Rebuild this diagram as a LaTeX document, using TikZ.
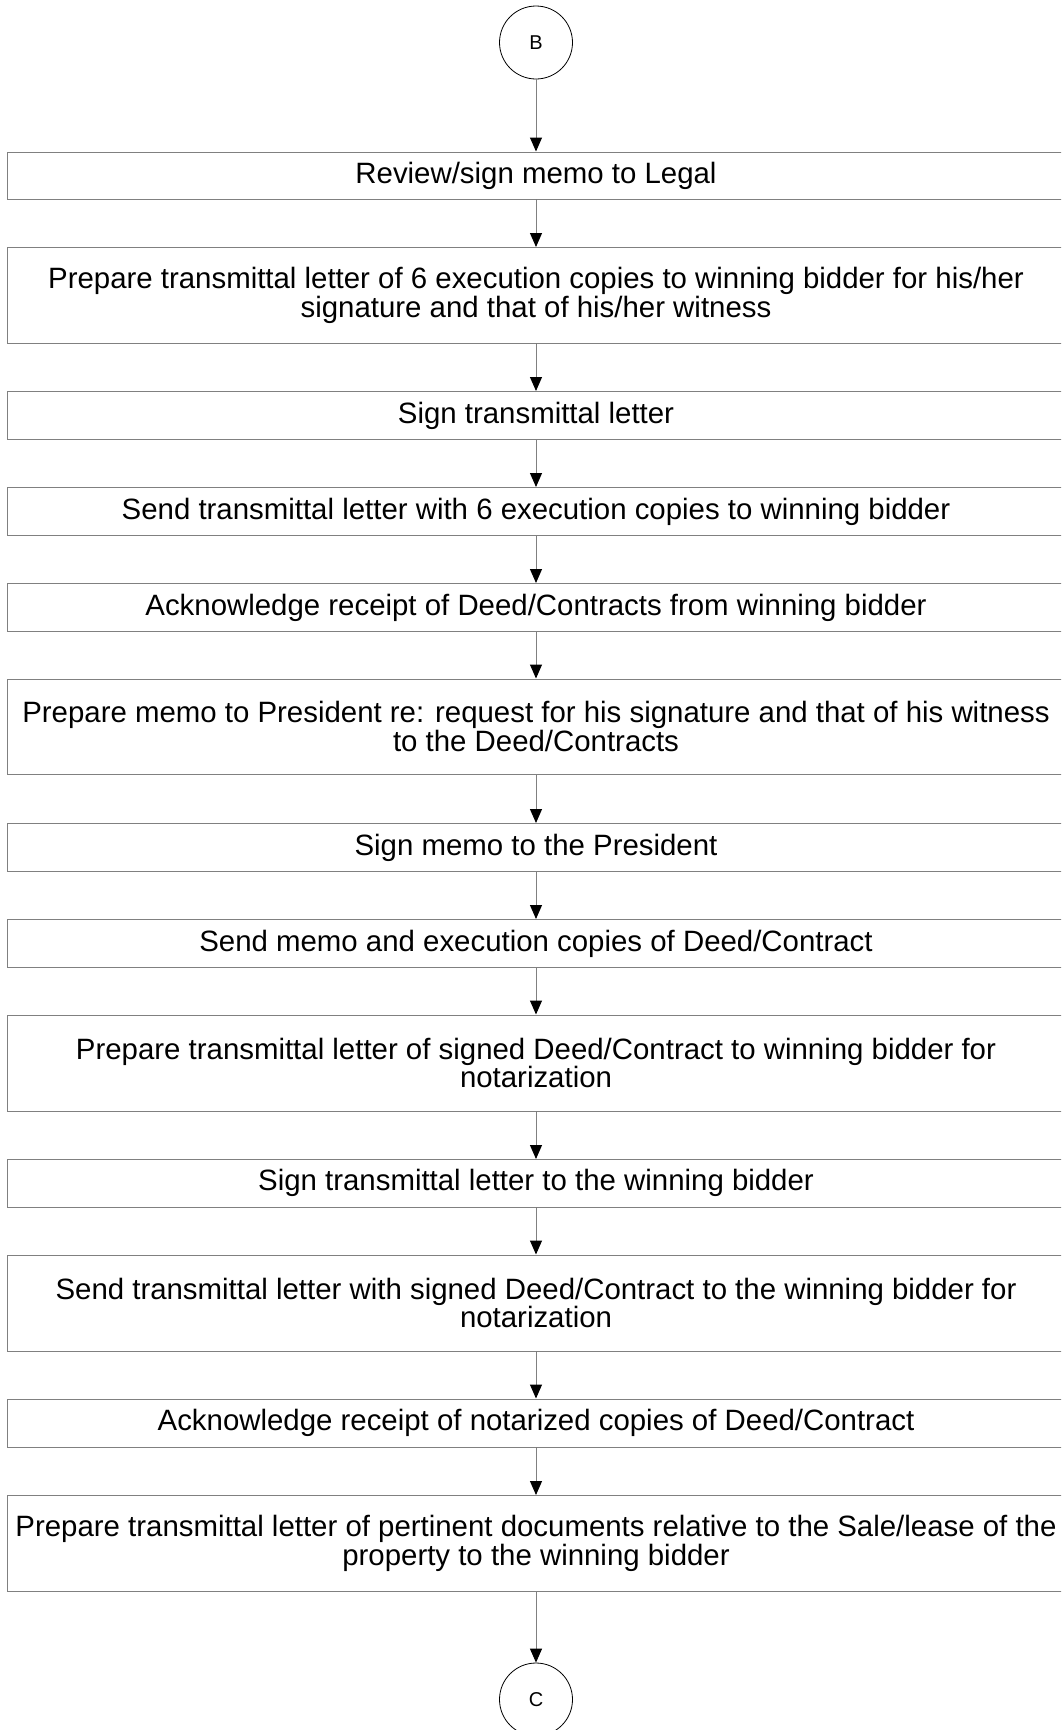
\documentclass[tikz,border=0pt]{standalone}
\usepackage{fontspec}
\setmainfont{Liberation Sans}
\usetikzlibrary{arrows.meta}
\tikzset{
  stepbox/.style={draw=black!50, line width=1pt, rectangle, minimum width=1056.6pt, inner sep=0pt, align=center, anchor=north, font=\fontsize{29.4}{28.8}\selectfont},
  conn/.style={draw=black!50, fill=black, line width=1pt, -{Triangle[length=14pt,width=12pt,black]}},
  connector/.style={draw=black, line width=0.8pt, circle, minimum size=73pt, inner sep=0pt, font=\fontsize{20}{22}\selectfont}
}
\begin{document}
\begin{tikzpicture}[x=1pt,y=-1pt]
\useasboundingbox (0,0) rectangle (1061,1730);
\clip (0,0) rectangle (1061,1730);
\node[connector] (B) at (536,42.5) {B};
\node[stepbox, minimum height=47pt] (s1) at (536,151.5) {Review/sign memo to Legal};
\node[stepbox, minimum height=95.5pt] (s2) at (536,247) {Prepare transmittal letter of 6 execution copies to winning bidder for his/her\\signature and that of his/her witness};
\node[stepbox, minimum height=48pt] (s3) at (536,391) {Sign transmittal letter};
\node[stepbox, minimum height=48pt] (s4) at (536,487) {Send transmittal letter with 6 execution copies to winning bidder};
\node[stepbox, minimum height=48pt] (s5) at (536,583) {Acknowledge receipt of Deed/Contracts from winning bidder};
\node[stepbox, minimum height=95.5pt] (s6) at (536,678.5) {Prepare memo to President re: request for his signature and that of his witness\\to the Deed/Contracts};
\node[stepbox, minimum height=48pt] (s7) at (536,823) {Sign memo to the President};
\node[stepbox, minimum height=48pt] (s8) at (536,919) {Send memo and execution copies of Deed/Contract};
\node[stepbox, minimum height=96pt] (s9) at (536,1014.5) {Prepare transmittal letter of signed Deed/Contract to winning bidder for\\notarization};
\node[stepbox, minimum height=47.5pt] (s10) at (536,1159) {Sign transmittal letter to the winning bidder};
\node[stepbox, minimum height=96pt] (s11) at (536,1254.5) {Send transmittal letter with signed Deed/Contract to the winning bidder for\\notarization};
\node[stepbox, minimum height=48pt] (s12) at (536,1398.5) {Acknowledge receipt of notarized copies of Deed/Contract};
\node[stepbox, minimum height=96pt] (s13) at (536,1495) {Prepare transmittal letter of pertinent documents relative to the Sale/lease of the\\property to the winning bidder};
\node[connector] (C) at (536,1699.5) {C};
\draw[conn] (B) -- (s1);
\draw[conn] (s1) -- (s2);
\draw[conn] (s2) -- (s3);
\draw[conn] (s3) -- (s4);
\draw[conn] (s4) -- (s5);
\draw[conn] (s5) -- (s6);
\draw[conn] (s6) -- (s7);
\draw[conn] (s7) -- (s8);
\draw[conn] (s8) -- (s9);
\draw[conn] (s9) -- (s10);
\draw[conn] (s10) -- (s11);
\draw[conn] (s11) -- (s12);
\draw[conn] (s12) -- (s13);
\draw[conn] (s13) -- (C);
\end{tikzpicture}
\end{document}
